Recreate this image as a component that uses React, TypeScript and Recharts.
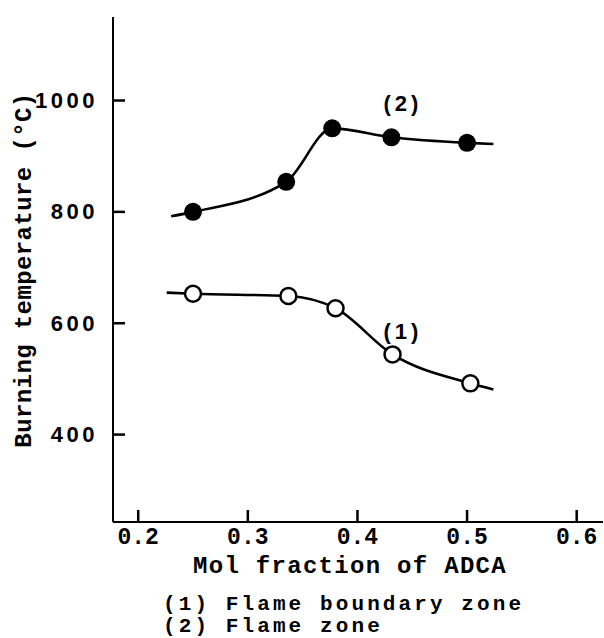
import { ComposedChart, Line, XAxis, YAxis, ReferenceDot } from 'recharts';

// measured points
const xFlame = [0.25, 0.335, 0.377, 0.431, 0.5];
const tFlame = [800, 854, 950, 934, 924];
const xBoundary = [0.25, 0.337, 0.38, 0.432, 0.503];
const tBoundary = [653, 649, 627, 544, 492];

// where the drawn curves start and end
const flameEnds = [
  { x: 0.23, t: 792 },
  { x: 0.524, t: 922 },
];
const boundaryEnds = [
  { x: 0.226, t: 655 },
  { x: 0.524, t: 481 },
];

const xTicks = [0.2, 0.3, 0.4, 0.5, 0.6];
const yTicks = [400, 600, 800, 1000];

const xMin = 0.177;
const xMax = 0.624;
const yMin = 243;
const yMax = 1150;

const flamePts = xFlame.map((x, i) => ({ x, t: tFlame[i] }));
const boundaryPts = xBoundary.map((x, i) => ({ x, t: tBoundary[i] }));
const flameCurve = [flameEnds[0], ...flamePts, flameEnds[1]];
const boundaryCurve = [boundaryEnds[0], ...boundaryPts, boundaryEnds[1]];

const mono = '"Liberation Mono", "DejaVu Sans Mono", monospace';
const sans = '"Liberation Sans", Arial, sans-serif';

// inward tick mark + label
const XTick = (props: any) => (
  <g>
    <rect x={Number(props.x) - 1.25} y={Number(props.y) - 12} width={2.5} height={12} fill="#000" />
    <text
      x={props.x}
      y={Number(props.y) + 16}
      textAnchor="middle"
      dominantBaseline="central"
      fontFamily={mono}
      fontWeight="bold"
      fontSize={23}
      fill="#000"
    >
      {props.payload.value.toFixed(1)}
    </text>
  </g>
);

const YTick = (props: any) => (
  <g>
    <rect x={Number(props.x)} y={Number(props.y) - 1.25} width={12} height={2.5} fill="#000" />
    <text
      x={Number(props.x) - 15}
      y={props.y}
      textAnchor="end"
      dominantBaseline="central"
      fontFamily={sans}
      fontWeight="bold"
      fontSize={22}
      letterSpacing={3.5}
      fill="#000"
    >
      {props.payload.value}
    </text>
  </g>
);

const filledDot = (props: any) => (
  <circle key={`f-${props.index}`} cx={props.cx} cy={props.cy} r={9} fill="#000" />
);
const openDot = (props: any) => (
  <circle
    key={`o-${props.index}`}
    cx={props.cx}
    cy={props.cy}
    r={8}
    fill="#fff"
    stroke="#000"
    strokeWidth={2.5}
  />
);

const textStyle: React.CSSProperties = {
  position: 'absolute',
  fontFamily: mono,
  fontWeight: 'bold',
  fontSize: 24,
  letterSpacing: 1.3,
  whiteSpace: 'pre',
  color: '#000',
  lineHeight: 1,
};

const legendStyle: React.CSSProperties = {
  ...textStyle,
  fontSize: 21,
  letterSpacing: 3.1,
  lineHeight: '20px',
  left: 163,
};

const labelStyle = { position: 'center', fontFamily: sans, fontWeight: 'bold', fontSize: 22, letterSpacing: 4, fill: '#000' };

export default function App() {
  return (
    <div style={{ position: 'absolute', left: 0, top: 0, width: 604, height: 638, background: '#fff' }}>
      <ComposedChart
        width={604}
        height={638}
        margin={{ top: 17, right: 1, left: 53, bottom: 86 }}
      >
        <XAxis
          dataKey="x"
          type="number"
          domain={[xMin, xMax]}
          ticks={xTicks}
          allowDataOverflow
          axisLine={{ stroke: '#000', strokeWidth: 2 }}
          tickLine={false}
          tickSize={0}
          tickMargin={0}
          tick={<XTick />}
          height={30}
        />
        <XAxis
          xAxisId="top"
          orientation="top"
          dataKey="x"
          type="number"
          domain={[xMin, xMax]}
          tick={false}
          tickLine={false}
          axisLine={{ stroke: '#000', strokeWidth: 2 }}
          height={0}
        />
        <YAxis
          type="number"
          domain={[yMin, yMax]}
          ticks={yTicks}
          allowDataOverflow
          axisLine={{ stroke: '#000', strokeWidth: 2 }}
          tickLine={false}
          tickSize={0}
          tickMargin={0}
          tick={<YTick />}
          width={60}
        />
        <YAxis
          yAxisId="right"
          orientation="right"
          type="number"
          domain={[yMin, yMax]}
          tick={false}
          tickLine={false}
          axisLine={{ stroke: '#888', strokeWidth: 1, strokeDasharray: '7 4' }}
          width={0}
        />
        <Line
          data={flameCurve}
          dataKey="t"
          type="monotone"
          stroke="#000"
          strokeWidth={2.6}
          dot={false}
          isAnimationActive={false}
        />
        <Line
          data={boundaryCurve}
          dataKey="t"
          type="monotone"
          stroke="#000"
          strokeWidth={2.6}
          dot={false}
          isAnimationActive={false}
        />
        <Line
          data={flamePts}
          dataKey="t"
          stroke="none"
          dot={filledDot}
          activeDot={false}
          isAnimationActive={false}
        />
        <Line
          data={boundaryPts}
          dataKey="t"
          stroke="none"
          dot={openDot}
          activeDot={false}
          isAnimationActive={false}
        />
        <ReferenceDot x={0.4415} y={995} r={0} fill="none" stroke="none" label={{ value: '(2)', ...labelStyle }} />
        <ReferenceDot x={0.4415} y={586} r={0} fill="none" stroke="none" label={{ value: '(1)', ...labelStyle }} />
      </ComposedChart>

      <div
        style={{
          ...textStyle,
          left: 25,
          top: 270,
          letterSpacing: 0.4,
          transform: 'translate(-50%, -50%) rotate(-90deg)',
        }}
      >
        Burning temperature (°C)
      </div>
      <div style={{ ...textStyle, left: 350, top: 567, transform: 'translate(-50%, -50%)' }}>
        Mol fraction of ADCA
      </div>
      <div style={{ ...legendStyle, top: 595 }}>(1) Flame boundary zone</div>
      <div style={{ ...legendStyle, top: 617 }}>(2) Flame zone</div>
    </div>
  );
}
